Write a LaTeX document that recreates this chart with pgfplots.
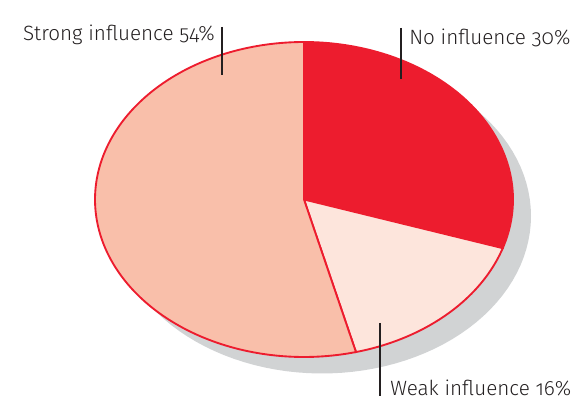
\documentclass[border=0pt]{standalone}
\usepackage{pgfplots}
\pgfplotsset{compat=1.18}
\usepackage{pgfplotstable}
\usepackage{fontspec}
\setmainfont{Fira Sans}[UprightFont=* Light, Numbers=OldStyle]
\definecolor{noinf}{HTML}{ED1C2E}
\definecolor{weakinf}{HTML}{FDE5DC}
\definecolor{stronginf}{HTML}{F9BFAA}
\definecolor{shadowc}{HTML}{D1D3D4}
\definecolor{txt}{HTML}{231F20}
% shares in percent
\pgfplotstableread{
name share
No 30
Weak 16
Strong 54
}\piedata
\begin{document}
\begin{tikzpicture}
\pgfplotstablegetelem{0}{share}\of\piedata \let\sNo\pgfplotsretval
\pgfplotstablegetelem{1}{share}\of\piedata \let\sWeak\pgfplotsretval
\pgfplotstablegetelem{2}{share}\of\piedata \let\sStrong\pgfplotsretval
\pgfmathsetmacro{\aA}{90}
\pgfmathsetmacro{\aB}{\aA-3.6*\sNo}
\pgfmathsetmacro{\aC}{\aB-3.6*\sWeak}
\pgfmathsetmacro{\aD}{\aC-3.6*\sStrong}
\begin{axis}[
  scale only axis, width=432pt, height=302.25pt,
  xmin=0, xmax=576, ymin=0, ymax=403, y dir=reverse,
  hide axis, clip=false,
]
\path (axis cs:0,0) rectangle (axis cs:576,403);
% shadow
\addplot[fill=shadowc, draw=none, domain=0:360, samples=120, variable=\t]
  ({322+209*cos(t)}, {216-157.5*sin(t)}) -- cycle;
% No influence
\addplot[fill=noinf, draw=noinf, line width=1.4pt, domain=\aB:\aA, samples=80, variable=\t]
  ({304+209*cos(t)}, {199.5-157.5*sin(t)}) -- (axis cs:304,199.5) -- cycle;
% Weak influence
\addplot[fill=weakinf, draw=noinf, line width=1.4pt, domain=\aC:\aB, samples=60, variable=\t]
  ({304+209*cos(t)}, {199.5-157.5*sin(t)}) -- (axis cs:304,199.5) -- cycle;
% Strong influence
\addplot[fill=stronginf, draw=noinf, line width=1.4pt, domain=\aD:\aC, samples=150, variable=\t]
  ({304+209*cos(t)}, {199.5-157.5*sin(t)}) -- (axis cs:304,199.5) -- cycle;
% redraw top part of the red slice border
\addplot[draw=none, fill=noinf] coordinates {(303.5,44) (305,44) (305,199) (303.5,199)} -- cycle;
% leader lines
\draw[txt, line width=0.8pt] (axis cs:222,27) -- (axis cs:222,75);
\draw[txt, line width=0.8pt] (axis cs:401,28) -- (axis cs:401,79);
\draw[txt, line width=0.8pt] (axis cs:380,323) -- (axis cs:380,396);
% labels
\node[anchor=east, text=txt, font=\fontsize{15.5}{18}\selectfont, inner sep=0pt] at (axis cs:215,35) {Strong influence 54\%};
\node[anchor=west, text=txt, font=\fontsize{15.5}{18}\selectfont, inner sep=0pt] at (axis cs:409,38) {No influence 30\%};
\node[anchor=west, text=txt, font=\fontsize{15.5}{18}\selectfont, inner sep=0pt] at (axis cs:390,388) {Weak influence 16\%};
\end{axis}
\end{tikzpicture}
\end{document}
